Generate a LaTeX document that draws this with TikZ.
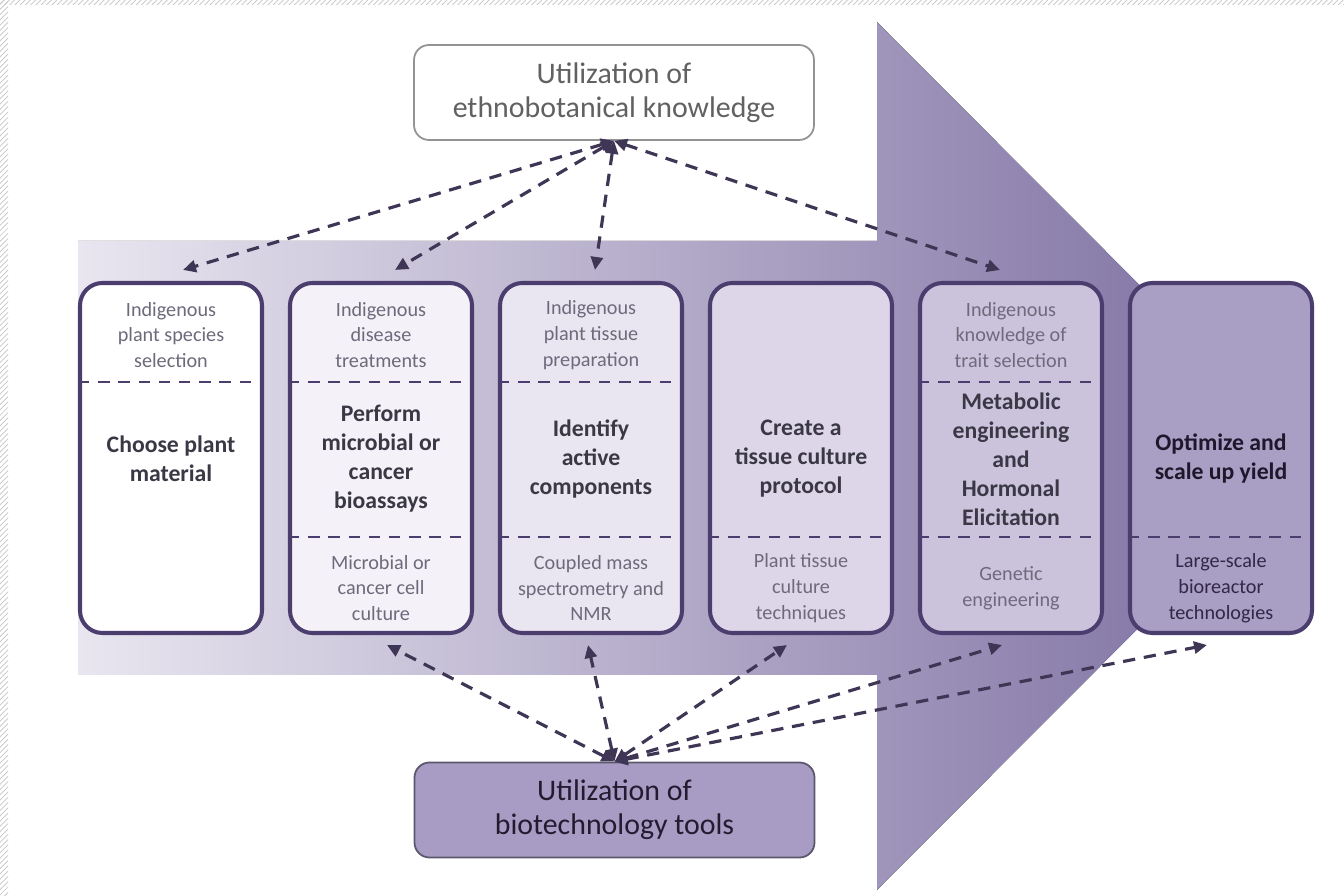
\documentclass[tikz,border=0pt]{standalone}
\usepackage{fontspec}
\setmainfont{Carlito}
\usetikzlibrary{arrows.meta,patterns}

\definecolor{boxline}{HTML}{4B3D6E}
\definecolor{linkcol}{HTML}{3F3656}
\definecolor{bandlight}{HTML}{E9E6F0}
\definecolor{banddark}{HTML}{786A9E}
\definecolor{subcol}{HTML}{6E6A7C}
\definecolor{maincol}{HTML}{3B3846}
\definecolor{fillb}{HTML}{F4F2F8}
\definecolor{fillc}{HTML}{EAE6F1}
\definecolor{filld}{HTML}{DDD6E8}
\definecolor{fille}{HTML}{CBC3DC}
\definecolor{fillf}{HTML}{A99EC3}
\definecolor{toolfill}{HTML}{A89CC4}

\tikzset{
	stage/.style={draw=boxline, line width=2.3pt, rounded corners=0.45cm, minimum width=3.64cm, minimum height=7cm},
	subtxt/.style={text=subcol, font=\fontsize{11.5}{14.7}\selectfont, align=center},
	maintxt/.style={text=maincol, font=\fontsize{13.5}{16.5}\selectfont\bfseries, align=center},
	divider/.style={draw=boxline, line width=1.4pt, dash pattern=on 6.5pt off 5pt},
	link/.style={draw=linkcol, line width=1.8pt, dash pattern=on 7pt off 5pt, {Triangle[length=2.6mm,width=2.4mm]}-{Triangle[length=2.6mm,width=2.4mm]}},
	source/.style={rounded corners=0.3cm, minimum width=8cm, minimum height=1.9cm, align=center, font=\fontsize{17}{19.5}\selectfont}
}

\begin{document}
\begin{tikzpicture}
		\useasboundingbox (0,0) rectangle (26.88,17.9);
		\fill[white] (0,0) rectangle (26.88,17.9);
		\fill[pattern=north east lines, pattern color=gray!45] (0,0) rectangle (0.16,17.9);
		\fill[pattern=north east lines, pattern color=gray!45] (0,17.8) rectangle (26.88,17.9);
		
		% big arrow behind the stages
		\fill[left color=bandlight, right color=banddark] (1.56,13.08)--(17.54,13.08)--(17.54,17.46)--(26.2,8.78)--(17.54,0.1)--(17.54,4.4)--(1.56,4.4)--cycle;
		
		\node[source, draw=gray!85, line width=1pt, fill=white, text=black!62] (ethno) at (12.28,16.05) {Utilization of\\ethnobotanical knowledge};
		\node[source, draw=black!45!toolfill, line width=1pt, fill=toolfill, text=black!55!boxline] (biotech) at (12.29,1.7) {Utilization of\\biotechnology tools};
		
		\node[stage, fill=white] (b1) at (3.42,8.74) {};
		\node[stage, fill=fillb] (b2) at (7.62,8.74) {};
		\node[stage, fill=fillc] (b3) at (11.82,8.74) {};
		\node[stage, fill=filld] (b4) at (16.02,8.74) {};
		\node[stage, fill=fille] (b5) at (20.22,8.74) {};
		\node[stage, fill=fillf] (b6) at (24.42,8.74) {};
		
		\draw[divider] (b1.west |- 0,10.26)--(b1.east |- 0,10.26);
		\draw[divider] (b2.west |- 0,10.26)--(b2.east |- 0,10.26);
		\draw[divider] (b3.west |- 0,10.26)--(b3.east |- 0,10.26);
		\draw[divider] (b5.west |- 0,10.26)--(b5.east |- 0,10.26);
		\draw[divider] (b2.west |- 0,7.16)--(b2.east |- 0,7.16);
		\draw[divider] (b3.west |- 0,7.16)--(b3.east |- 0,7.16);
		\draw[divider] (b4.west |- 0,7.16)--(b4.east |- 0,7.16);
		\draw[divider] (b5.west |- 0,7.16)--(b5.east |- 0,7.16);
		\draw[divider] (b6.west |- 0,7.16)--(b6.east |- 0,7.16);
		
		\node[subtxt] (b1top) at (3.42,11.2) {Indigenous\\plant species\\selection};
		\node[maintxt] (b1mid) at (3.42,8.72) {Choose plant\\material};
		
		\node[subtxt] (b2top) at (7.62,11.2) {Indigenous\\disease\\treatments};
		\node[maintxt] (b2mid) at (7.62,8.72) {Perform\\microbial or\\cancer\\bioassays};
		\node[subtxt] (b2low) at (7.62,6.14) {Microbial or\\cancer cell\\culture};
		
		\node[subtxt] (b3top) at (11.82,11.2) {Indigenous\\plant tissue\\preparation};
		\node[maintxt] (b3mid) at (11.82,8.72) {Identify\\active\\components};
		\node[subtxt] (b3low) at (11.82,6.14) {Coupled mass\\spectrometry and\\NMR};
		
		\node[maintxt] (b4mid) at (16.02,8.72) {Create a\\tissue culture\\protocol};
		\node[subtxt] (b4low) at (16.02,6.14) {Plant tissue\\culture\\techniques};
		
		\node[subtxt] (b5top) at (20.22,11.2) {Indigenous\\knowledge of\\trait selection};
		\node[maintxt] (b5mid) at (20.22,8.72) {Metabolic\\engineering\\and\\Hormonal\\Elicitation};
		\node[subtxt] (b5low) at (20.22,6.14) {Genetic\\engineering};
		
		\node[maintxt, text=black!60!boxline] (b6mid) at (24.42,8.72) {Optimize and\\scale up yield};
		\node[subtxt, text=black!35!boxline] (b6low) at (24.42,6.14) {Large-scale\\bioreactor\\technologies};
		
		% links to the top source
		\draw[link] (ethno.south)--([xshift=0.24cm,yshift=0.22cm]b1.north);
		\draw[link] (ethno.south)--([xshift=0.28cm,yshift=0.22cm]b2.north);
		\draw[link] (ethno.south)--([xshift=0.08cm,yshift=0.22cm]b3.north);
		\draw[link] (ethno.south)--([xshift=-0.22cm,yshift=0.22cm]b5.north);
		
		% links to the bottom source
		\draw[link] (biotech.north)--([xshift=0.12cm,yshift=-0.2cm]b2.south);
		\draw[link] (biotech.north)--([xshift=-0.06cm,yshift=-0.2cm]b3.south);
		\draw[link] (biotech.north)--([xshift=-0.28cm,yshift=-0.2cm]b4.south);
		\draw[link] (biotech.north)--([xshift=-0.18cm,yshift=-0.2cm]b5.south);
		\draw[link] (biotech.north)--([xshift=-0.28cm,yshift=-0.2cm]b6.south);
\end{tikzpicture}
\end{document}
